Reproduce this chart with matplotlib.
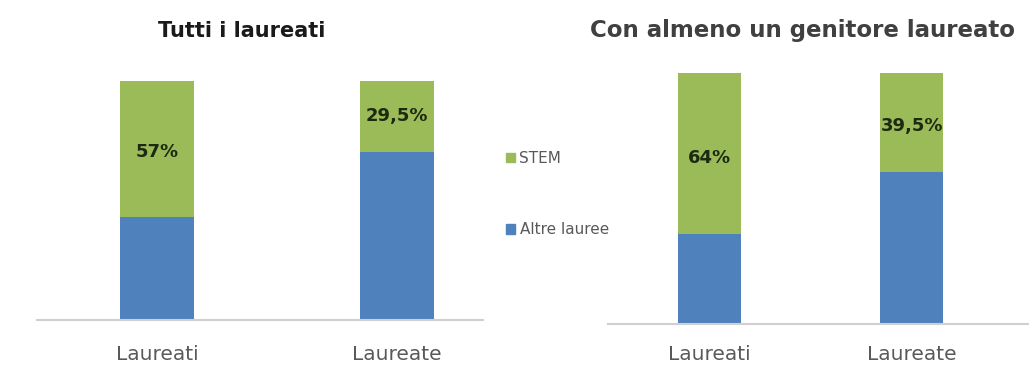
import matplotlib.pyplot as plt
from matplotlib.patches import Patch

categorie = ['Laureati', 'Laureate']
stem_tutti = [57, 29.5]
altre_tutti = [43, 70.5]
stem_genitori = [64, 39.5]
altre_genitori = [36, 60.5]
etichette_tutti = ['57%', '29,5%']
etichette_genitori = ['64%', '39,5%']

verde = '#9BBB59'
blu = '#4F81BD'
grigio = '#595959'

W, H = 1029, 368
fig = plt.figure(figsize=(W / 100, H / 100), dpi=100)


def pannello(box, altre, stem, etichette, xlim, pos_label, pad):
    x0, x1, ytop, ybot = box
    ax = fig.add_axes([x0 / W, 1 - ybot / H, (x1 - x0) / W, (ybot - ytop) / H])
    pos = range(len(categorie))
    ax.bar(pos, altre, width=0.31, color=blu)
    ax.bar(pos, stem, width=0.31, bottom=altre, color=verde)
    for i, t in enumerate(etichette):
        ax.text(i, altre[i] + stem[i] * pos_label[i], t, ha='center', va='center',
                fontsize=13, fontweight='bold', color='#1d2a10')
    ax.set_xlim(*xlim)
    ax.set_ylim(0, 100)
    ax.set_yticks([])
    ax.set_xticks(list(pos))
    ax.set_xticklabels(categorie, fontsize=14.5, color=grigio)
    ax.tick_params(axis='x', length=0, pad=pad)
    for s in ['top', 'right', 'left']:
        ax.spines[s].set_visible(False)
    ax.spines['bottom'].set_color('#d0d0d0')
    ax.spines['bottom'].set_linewidth(1.5)
    return ax


pannello((37, 483, 81, 320), altre_tutti, stem_tutti, etichette_tutti,
         (-0.5, 1.36), [0.48, 0.5], 18)
pannello((608, 1029, 73, 324), altre_genitori, stem_genitori, etichette_genitori,
         (-0.5, 1.58), [0.47, 0.47], 15)

fig.text(242 / W, 1 - 31 / H, 'Tutti i laureati', ha='center', va='center',
         fontsize=15, fontweight='bold', color='#1a1a1a')
fig.text(803 / W, 1 - 31 / H, 'Con almeno un genitore laureato', ha='center', va='center',
         fontsize=16.5, fontweight='bold', color='#404040')

fig.legend(handles=[Patch(color=verde, label='STEM'), Patch(color=blu, label='Altre lauree')],
           loc='center left', bbox_to_anchor=(492 / W, 1 - 194 / H), frameon=False,
           fontsize=11, labelcolor=grigio, handlelength=0.6, handleheight=0.6,
           handletextpad=0.3, labelspacing=3.7)

fig.savefig('out.png', dpi=100)
